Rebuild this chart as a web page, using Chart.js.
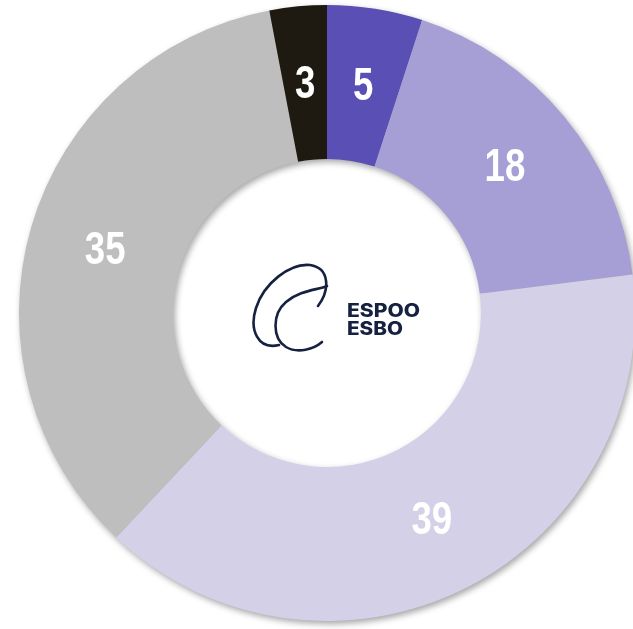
<!DOCTYPE html>
<html>
<head>
<meta charset="utf-8">
<script src="https://cdn.jsdelivr.net/npm/chart.js@4"></script>
<style>
  html, body { margin: 0; padding: 0; background: #fff; overflow: hidden; }
  body { width: 633px; height: 629px; position: relative; }
  #wrap { position: absolute; left: 0; top: 5px; width: 654px; height: 616px;
          filter: drop-shadow(2px 3px 3px rgba(0,0,0,0.35)); }
  #logo { position: absolute; left: 0; top: 0; }
</style>
</head>
<body>
<div id="wrap"><canvas id="donut" width="654" height="616"></canvas></div>
<svg id="logo" width="633" height="629" xmlns="http://www.w3.org/2000/svg">
  <g fill="none" stroke="#16213f" stroke-width="2.6" stroke-linecap="round">
    <path d="M 279 345 C 258 350 249 330 256 308 C 264 283 290 263 310 265 C 330 268 330 290 318 306"/>
    <path d="M 327 286 C 318 290 300 290 286 302 C 272 314 272 338 286 347 C 298 354 314 349 322 342"/>
  </g>
  <g fill="#16213f" font-family="Inter, 'Noto Sans', sans-serif" font-weight="800" font-size="18.5">
    <text x="347" y="316.5" textLength="73" lengthAdjust="spacingAndGlyphs">ESPOO</text>
    <text x="347" y="334.5" textLength="56" lengthAdjust="spacingAndGlyphs">ESBO</text>
  </g>
</svg>
<script>
const categories = ['A', 'B', 'C', 'D', 'E'];
const values = [5, 18, 39, 35, 3];
const colors = ['#5a4fb4', '#a59fd6', '#d4d0e8', '#bebebe', '#1f1a11'];

const sliceLabels = {
  id: 'sliceLabels',
  afterDatasetsDraw(chart) {
    const ctx = chart.ctx;
    const meta = chart.getDatasetMeta(0);
    meta.data.forEach((arc, i) => {
      const p = arc.tooltipPosition();
      ctx.save();
      ctx.translate(p.x, p.y + 2);
      ctx.scale(0.78, 1);
      ctx.font = 'bold 47px "Liberation Sans", sans-serif';
      ctx.textAlign = 'center';
      ctx.textBaseline = 'middle';
      ctx.fillStyle = '#ffffff';
      ctx.fillText(String(values[i]), 0, 0);
      ctx.restore();
    });
  }
};

new Chart(document.getElementById('donut'), {
  type: 'doughnut',
  data: {
    labels: categories,
    datasets: [{
      data: values,
      backgroundColor: colors,
      borderWidth: 0
    }]
  },
  options: {
    responsive: false,
    animation: false,
    cutout: '50%',
    layout: { padding: 0 },
    plugins: {
      legend: { display: false },
      tooltip: { enabled: false }
    }
  },
  plugins: [sliceLabels]
});
</script>
</body>
</html>
